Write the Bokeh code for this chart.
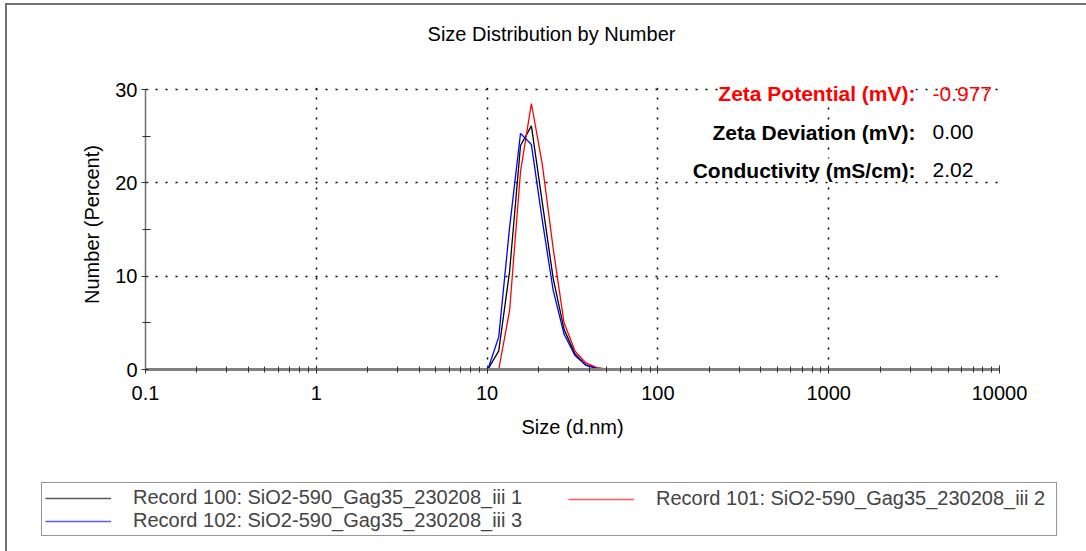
from bokeh.plotting import figure
from bokeh.layouts import column
from bokeh.models import (FixedTicker, CustomJSTickFormatter, Label, Legend,
                          LegendItem, BoxAnnotation)
from bokeh.embed import file_html
from bokeh.resources import INLINE

FONT = "Liberation Sans"

title_text = "Size Distribution by Number"
x_label = "Size (d.nm)"
y_label = "Number (Percent)"

size_nm = [0.4, 0.4632, 0.5365, 0.6213, 0.7195, 0.8332, 0.9649, 1.117, 1.294, 1.499,
           1.736, 2.01, 2.328, 2.696, 3.122, 3.615, 4.187, 4.849, 5.615, 6.503,
           7.531, 8.721, 10.1, 11.7, 13.54, 15.69, 18.17, 21.04, 24.36, 28.21,
           32.67, 37.84, 43.82, 50.75, 58.77, 68.06, 78.82, 91.28, 105.7, 122.4,
           141.8, 164.2, 190.1, 220.2, 255.0, 295.3, 342.0, 396.1, 458.7, 531.2,
           615.1, 712.4, 825.0, 955.4, 1106, 1281, 1484, 1718, 1990, 2305,
           2669, 3091, 3580, 4145, 4801, 5560, 6439, 7456, 8635, 10000]

record_100 = [0, 0, 0, 0, 0, 0, 0, 0, 0, 0,
              0, 0, 0, 0, 0, 0, 0, 0, 0, 0,
              0, 0, 0, 2.0, 10.5, 24.0, 26.1, 17.9, 9.8, 4.3,
              1.7, 0.5, 0.15, 0.05, 0, 0, 0, 0, 0, 0,
              0, 0, 0, 0, 0, 0, 0, 0, 0, 0,
              0, 0, 0, 0, 0, 0, 0, 0, 0, 0,
              0, 0, 0, 0, 0, 0, 0, 0, 0, 0]
record_101 = [0, 0, 0, 0, 0, 0, 0, 0, 0, 0,
              0, 0, 0, 0, 0, 0, 0, 0, 0, 0,
              0, 0, 0, 0.0, 6.3, 21.2, 28.5, 22.0, 13.0, 5.0,
              2.0, 0.7, 0.2, 0.05, 0, 0, 0, 0, 0, 0,
              0, 0, 0, 0, 0, 0, 0, 0, 0, 0,
              0, 0, 0, 0, 0, 0, 0, 0, 0, 0,
              0, 0, 0, 0, 0, 0, 0, 0, 0, 0]
record_102 = [0, 0, 0, 0, 0, 0, 0, 0, 0, 0,
              0, 0, 0, 0, 0, 0, 0, 0, 0, 0,
              0, 0, 0, 3.5, 15.2, 25.3, 24.1, 16.0, 8.5, 3.8,
              1.5, 0.45, 0.12, 0.03, 0, 0, 0, 0, 0, 0,
              0, 0, 0, 0, 0, 0, 0, 0, 0, 0,
              0, 0, 0, 0, 0, 0, 0, 0, 0, 0,
              0, 0, 0, 0, 0, 0, 0, 0, 0, 0]

series_names = ["Record 100: SiO2-590_Gag35_230208_iii 1",
                "Record 101: SiO2-590_Gag35_230208_iii 2",
                "Record 102: SiO2-590_Gag35_230208_iii 3"]
series_colors = ["#000000", "#ff0000", "#0000ff"]
legend_colors = ["#5a5a5a", "#ff5a5a", "#5a5aff"]

x_major = [0.1, 1, 10, 100, 1000, 10000]
y_major = [0, 10, 20, 30]
y_minor = [5, 15, 25]

annot_labels = ["Zeta Potential (mV):", "Zeta Deviation (mV):", "Conductivity (mS/cm):"]
annot_values = ["-0.977", "0.00", "2.02"]
annot_colors = ["#ff0000", "#000000", "#000000"]

x_minor = [m * 10.0 ** e for e in range(-1, 4) for m in range(2, 10)]

# ---- page layout (page pixels) ----
OFFX, OFFY = 7, 5            # canvas offset inside the page (outer frame lines)
W = 1086 - OFFX
TITLE_BOTTOM = 60            # page y where the title strip ends
MAIN_BOTTOM = 470            # page y where the main chart ends
FRAME_L, FRAME_R, FRAME_B = 145, 999, 369
Y30_PX = 89
FRAME_T = 79                 # frame reaches a little above the 30 line
y_top_val = 30 * (FRAME_B - FRAME_T) / (FRAME_B - Y30_PX)

# ---- title strip (its frame is aligned with the main chart's frame) ----
pt = figure(width=W, height=TITLE_BOTTOM - OFFY, x_range=(0, 1), y_range=(0, 1),
            output_backend="svg", toolbar_location=None,
            x_axis_location=None, y_axis_location=None, min_border=0)
pt.outline_line_color = None
pt.grid.visible = False
pt.add_layout(Label(x=551 - FRAME_L, y=(TITLE_BOTTOM - 34) + 1,
                    x_units="screen", y_units="screen",
                    text=title_text, text_align="center", text_baseline="middle",
                    text_font=FONT, text_font_size="20px", text_color="#000000"))

# ---- main chart ----
H = MAIN_BOTTOM - TITLE_BOTTOM
p = figure(width=W, height=H, x_axis_type="log",
           x_range=(0.1, 10000), y_range=(0, y_top_val),
           output_backend="svg", toolbar_location=None,
           min_border_left=FRAME_L - OFFX, min_border_right=W - (FRAME_R - OFFX),
           min_border_top=FRAME_T - TITLE_BOTTOM,
           min_border_bottom=MAIN_BOTTOM - FRAME_B)
p.outline_line_color = None
p.background_fill_color = "white"
p.border_fill_color = "white"

xt = FixedTicker(ticks=x_major, minor_ticks=x_minor)
yt = FixedTicker(ticks=y_major, minor_ticks=y_minor)
p.xaxis.ticker = xt
p.yaxis.ticker = yt
p.xgrid.ticker = xt
p.ygrid.ticker = yt
p.xaxis.formatter = CustomJSTickFormatter(code="return String(tick)")
p.yaxis.bounds = (0, 30)

for g in (p.xgrid, p.ygrid):
    g.grid_line_color = "#000000"
    g.grid_line_dash = "2 8"
    g.grid_line_width = 1.5

for ax in (p.xaxis, p.yaxis):
    ax.major_label_text_font = FONT
    ax.major_label_text_font_size = "20px"
    ax.major_label_text_color = "#000000"
    ax.axis_label_text_font = FONT
    ax.axis_label_text_font_size = "20px"
    ax.axis_label_text_font_style = "normal"
    ax.axis_label_text_color = "#000000"
    ax.major_tick_line_color = "#303030"
    ax.minor_tick_line_color = "#303030"

p.xaxis.axis_label = x_label
p.yaxis.axis_label = y_label
p.xaxis.axis_line_color = "#808080"
p.xaxis.axis_line_width = 3
p.xaxis.major_tick_in = 4
p.xaxis.major_tick_out = 4
p.xaxis.minor_tick_in = 3
p.xaxis.minor_tick_out = 3
p.xaxis.major_label_standoff = 12
p.xaxis.axis_label_standoff = 13

p.yaxis.axis_line_color = "#707070"
p.yaxis.axis_line_width = 1.5
p.yaxis.major_tick_in = 3
p.yaxis.major_tick_out = 4
p.yaxis.minor_tick_in = 5
p.yaxis.minor_tick_out = 3
p.yaxis.major_label_standoff = 4
p.yaxis.axis_label_standoff = 9

records = [record_100, record_101, record_102]
for rec, col in zip(records, series_colors):
    p.line(size_nm, rec, line_color=col, line_width=1.3)

# white mask above the 30 line (grid lines stop at 30 in the reference)
p.add_layout(BoxAnnotation(bottom=30.2, top=y_top_val + 1, fill_color="white",
                           fill_alpha=1.0, line_color=None))

label_right = 915 - FRAME_L
value_left = 932 - FRAME_L
rows_y = [FRAME_B - 93, FRAME_B - 131.5, FRAME_B - 169.5]
for t, v, c, yy in zip(annot_labels, annot_values, annot_colors, rows_y):
    p.add_layout(Label(x=label_right, y=yy, x_units="screen", y_units="screen",
                       text=t, text_align="right", text_baseline="middle",
                       text_font=FONT, text_font_size="21px",
                       text_font_style="bold", text_color=c,
                       background_fill_color="white", background_fill_alpha=1.0))
    p.add_layout(Label(x=value_left, y=yy, x_units="screen", y_units="screen",
                       text=v, text_align="left", text_baseline="middle",
                       text_font=FONT, text_font_size="21px",
                       text_color=c))

# ---- legend strip (separate root, so its frame spans its whole canvas) ----
HL = 551 - MAIN_BOTTOM
pl = figure(width=W, height=HL, x_range=(0, 1), y_range=(1000, 1001),
            output_backend="svg", toolbar_location=None,
            x_axis_location=None, y_axis_location=None, min_border=0)
pl.outline_line_color = None
pl.grid.visible = False
proxies = [pl.line(size_nm, rec, line_color=col, line_width=1.6)
           for rec, col in zip(records, legend_colors)]

legA = Legend(items=[LegendItem(label=series_names[0], renderers=[proxies[0]]),
                     LegendItem(label=series_names[2], renderers=[proxies[2]])],
              location=(41 - OFFX, 551 - 536), orientation="vertical",
              glyph_width=66, glyph_height=20, label_standoff=22,
              label_width=920, label_height=20, spacing=0, padding=3, margin=0,
              label_text_font=FONT, label_text_font_size="20px",
              border_line_color="#303030", border_line_width=1.5,
              background_fill_color="white", background_fill_alpha=1.0)
legB = Legend(items=[LegendItem(label=series_names[1], renderers=[proxies[1]])],
              location=(568 - OFFX, 551 - 514 + 4), orientation="vertical",
              glyph_width=66, glyph_height=20, label_standoff=22,
              label_height=20, spacing=0, padding=3, margin=0,
              label_text_font=FONT, label_text_font_size="20px",
              border_line_color=None, background_fill_alpha=0.0)
pl.add_layout(legA)
pl.add_layout(legB)

top = column(pt, p, spacing=0)
top.styles = {"margin-left": "5px", "margin-top": "3px",
              "border-left": "2px solid #707070", "border-top": "2px solid #707070"}
pl.styles = {"margin-left": "5px", "border-left": "2px solid #707070"}

open("out.html", "w").write(file_html([top, pl], INLINE))
